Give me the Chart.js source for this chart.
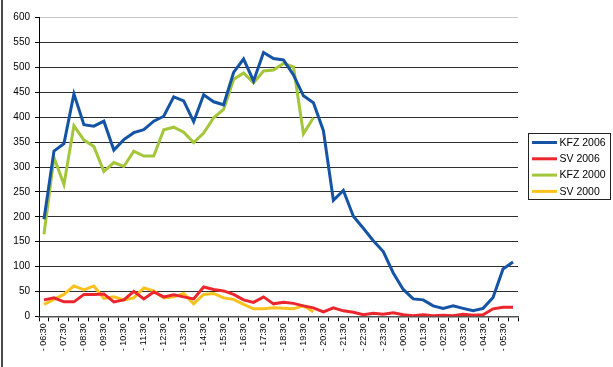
<!DOCTYPE html>
<html>
<head>
<meta charset="utf-8">
<script src="https://cdn.jsdelivr.net/npm/chart.js@4/dist/chart.umd.min.js"></script>
<style>
  body { margin: 0; background: #fff; }
  canvas { display: block; }
</style>
</head>
<body>
<canvas id="verkehr" width="613" height="367"></canvas>
<script>
// Halbstundenwerte, 06:30 bis 06:00 des Folgetages
var zeiten = ['06:30', '07:00', '07:30', '08:00', '08:30', '09:00', '09:30', '10:00',
    '10:30', '11:00', '11:30', '12:00', '12:30', '13:00', '13:30', '14:00',
    '14:30', '15:00', '15:30', '16:00', '16:30', '17:00', '17:30', '18:00',
    '18:30', '19:00', '19:30', '20:00', '20:30', '21:00', '21:30', '22:00',
    '22:30', '23:00', '23:30', '00:00', '00:30', '01:00', '01:30', '02:00',
    '02:30', '03:00', '03:30', '04:00', '04:30', '05:00', '05:30', '06:00'];

var kfz2006 = [195, 332, 347, 447, 385, 382, 392, 334, 355, 369, 375, 392,
    402, 441, 433, 391, 445, 431, 425, 490, 517, 473, 530, 518,
    515, 485, 443, 429, 373, 233, 253, 201, 177, 152, 130, 87,
    54, 35, 33, 21, 16, 21, 16, 11, 16, 38, 95, 109];
var sv2006 = [33, 37, 29, 29, 44, 44, 45, 29, 33, 50, 35, 49,
    39, 43, 39, 35, 59, 54, 51, 44, 33, 28, 39, 25,
    28, 26, 21, 17, 9, 17, 11, 8, 3, 6, 4, 7,
    3, 1, 3, 1, 2, 1, 4, 2, 3, 15, 18, 18];
// 2000 nur bis 20:00 erhoben
var kfz2000 = [165, 319, 265, 383, 354, 341, 291, 309, 301, 332, 322, 322,
    375, 380, 370, 349, 368, 399, 416, 476, 489, 469, 493, 495,
    508, 501, 367, 399];
var sv2000 = [24, 34, 44, 61, 53, 61, 36, 39, 33, 37, 57, 51,
    37, 39, 46, 25, 44, 46, 37, 34, 24, 15, 15, 17,
    16, 15, 21, 9];

var yTicks = { min: 0, max: 600, step: 50 };

var schrift = '"Liberation Sans", Arial, sans-serif';

// Legende mit Rahmen rechts neben dem Diagramm
var rahmenLegende = {
    id: 'rahmenLegende',
    beforeDraw: function (chart) {
        var ctx = chart.ctx;
        ctx.save();
        ctx.fillStyle = '#fff';
        ctx.fillRect(0, 0, chart.width, chart.height);
        ctx.fillStyle = '#4a4a4a';
        ctx.fillRect(1, 0, 2, chart.height);
        ctx.restore();
    },
    afterDraw: function (chart) {
        var ctx = chart.ctx;
        ctx.save();
        ctx.strokeStyle = '#222';
        ctx.lineWidth = 1;
        ctx.strokeRect(528.5, 133.5, 82, 66);
        ctx.font = '10.5px ' + schrift;
        ctx.textBaseline = 'middle';
        chart.data.datasets.forEach(function (ds, i) {
            var y = 142.5 + i * 16.3;
            ctx.strokeStyle = ds.borderColor;
            ctx.lineWidth = 3;
            ctx.beginPath();
            ctx.moveTo(532, y);
            ctx.lineTo(557, y);
            ctx.stroke();
            ctx.fillStyle = '#000';
            ctx.fillText(ds.label, 559.5, y + 0.5);
        });
        ctx.restore();
    }
};

function linie(label, werte, farbe) {
    return {
        label: label,
        data: werte,
        borderColor: farbe,
        backgroundColor: farbe,
        borderWidth: 3,
        pointRadius: 0,
        tension: 0,
        spanGaps: false
    };
}

var ctx = document.getElementById('verkehr').getContext('2d');
var chart = new Chart(ctx, {
    type: 'line',
    data: {
        labels: zeiten,
        datasets: [
            linie('KFZ 2006', kfz2006, '#1553a5'),
            linie('SV 2006', sv2006, '#ec262d'),
            linie('KFZ 2000', kfz2000, '#a3c63a'),
            linie('SV 2000', sv2000, '#fbc21e')
        ]
    },
    options: {
        responsive: false,
        animation: false,
        layout: { padding: { top: 17.7, right: 95, left: 0, bottom: 0 } },
        plugins: {
            legend: { display: false },
            tooltip: { enabled: false }
        },
        scales: {
            x: {
                offset: true,
                grid: {
                    offset: true,
                    drawOnChartArea: false,
                    tickLength: 5,
                    tickColor: '#000'
                },
                border: { color: '#555', width: 1.5 },
                ticks: {
                    autoSkip: false,
                    maxRotation: 90,
                    minRotation: 90,
                    padding: 2,
                    color: '#000',
                    font: { family: schrift, size: 9 },
                    callback: function (val, i) {
                        return i % 2 === 0 ? '- ' + zeiten[i] : '';
                    }
                },
                afterFit: function (s) { s.height = 50.7; }
            },
            y: {
                min: yTicks.min,
                max: yTicks.max,
                grid: {
                    color: function (c) {
                        return c.tick && c.tick.value === yTicks.max ? '#c8c8c8' : '#2e2e2e';
                    },
                    tickColor: '#000',
                    tickLength: 4
                },
                border: { color: '#000', width: 1 },
                ticks: {
                    stepSize: yTicks.step,
                    padding: 5,
                    color: '#000',
                    font: { family: schrift, size: 10 }
                },
                afterFit: function (s) { s.width = 39; }
            }
        }
    },
    plugins: [rahmenLegende]
});
</script>
</body>
</html>
